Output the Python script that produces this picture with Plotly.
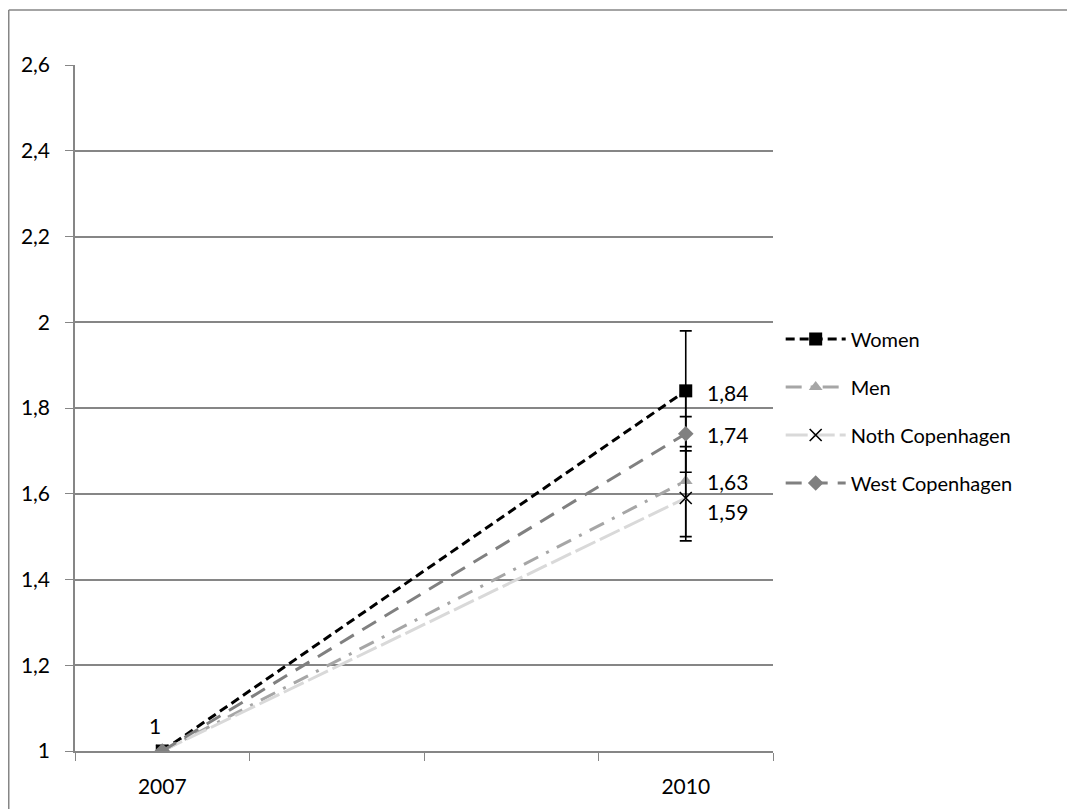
import plotly.graph_objects as go

categories = ["2007", "2008", "2009", "2010"]
tick_labels = ["2007", "", "", "2010"]
years = ["2007", "2010"]

series_names = ["Women", "Men", "Noth Copenhagen", "West Copenhagen"]
women = [1.0, 1.84]
men = [1.0, 1.63]
north = [1.0, 1.59]
west = [1.0, 1.74]

women_err_plus = [0, 0.14]
women_err_minus = [0, 0.14]
men_err_plus = [0, 0.15]
men_err_minus = [0, 0.14]
north_err_plus = [0, 0.12]
north_err_minus = [0, 0.09]
west_err_plus = [0, 0.09]
west_err_minus = [0, 0.09]

values = [women, men, north, west]
err_plus = [women_err_plus, men_err_plus, north_err_plus, west_err_plus]
err_minus = [women_err_minus, men_err_minus, north_err_minus, west_err_minus]

styles = [
    dict(color="#000000", dash="9px,5px", symbol="square", msize=13, mcolor="#000000", mline=None),
    dict(color="#a6a6a6", dash="16px,9px,3px,9px", symbol="triangle-up", msize=12, mcolor="#a6a6a6", mline=None),
    dict(color="#d9d9d9", dash="22px,5px", symbol="x-thin", msize=12, mcolor="#000000", mline=dict(color="#000000", width=1.6)),
    dict(color="#808080", dash="16px,10px", symbol="diamond", msize=12, mcolor="#808080", mline=None),
]

FONT = "Lato"
fig = go.Figure()
for name, vals, ep, em, st in zip(series_names, values, err_plus, err_minus, styles):
    marker = dict(symbol=st["symbol"], size=st["msize"], color=st["mcolor"])
    if st["mline"]:
        marker["line"] = st["mline"]
    fig.add_trace(go.Scatter(
        x=years, y=vals, name=name, mode="lines+markers",
        legendgroup=name,
        line=dict(color=st["color"], width=3, dash=st["dash"]),
        marker=marker,
        error_y=dict(type="data", symmetric=False, array=ep, arrayminus=em,
                     color="#000000", thickness=1.6, width=6),
    ))

def fmt(v):
    s = ("%.2f" % v).rstrip("0").rstrip(".")
    return s.replace(".", ",")

idx_last = categories.index(years[1])
idx_first = categories.index(years[0])
label_dy = [2, 1, 13, 1]
for vals, dy in zip(values, label_dy):
    fig.add_annotation(x=idx_last, y=vals[1], xref="x", yref="y", text=fmt(vals[1]),
                       showarrow=False, xanchor="left", yanchor="middle",
                       xshift=20, yshift=-dy, borderpad=0,
                       font=dict(family=FONT, size=21, color="#000000"))
fig.add_annotation(x=idx_first, y=women[0], xref="x", yref="y", text=fmt(women[0]),
                   showarrow=False, xanchor="center", yanchor="middle", yshift=26, xshift=-7,
                   font=dict(family=FONT, size=21, color="#000000"))

# outer chart frame (left and top edges)
fig.add_shape(type="line", xref="paper", yref="paper", x0=-0.0949, x1=-0.0949, y0=-0.2, y1=1.0802,
              line=dict(color="#868686", width=1.5))
fig.add_shape(type="line", xref="paper", yref="paper", x0=-0.0949, x1=1.6, y0=1.0802, y1=1.0802,
              line=dict(color="#868686", width=1.5))

fig.update_layout(
    width=1075, height=809,
    margin=dict(l=67, r=310, t=57, b=66),
    paper_bgcolor="white", plot_bgcolor="white",
    separators=", ",
    font=dict(family=FONT, size=21, color="#000000"),
    showlegend=True,
    legend=dict(x=1.011, xanchor="left", y=0.629, yanchor="top",
                traceorder="grouped", tracegroupgap=19,
                font=dict(family=FONT, size=20), itemwidth=60,
                bgcolor="rgba(0,0,0,0)"),
    xaxis=dict(type="category", categoryorder="array", categoryarray=categories,
               tickmode="array", tickvals=categories, ticktext=tick_labels,
               tickson="boundaries", ticks="outside", ticklen=8, tickcolor="#868686",
               showline=True, linecolor="#868686", linewidth=1.5,
               showgrid=False, zeroline=False, range=[-0.5, 3.5],
               ticklabelstandoff=16),
    yaxis=dict(range=[1, 2.6], dtick=0.2, tick0=1, ticks="outside", ticklen=8,
               tickcolor="#868686", showline=True, linecolor="#868686", linewidth=1.5,
               showgrid=True, gridcolor="#868686", gridwidth=1.5, zeroline=False,
               ticklabelstandoff=11),
)

fig.write_html("out.html")
